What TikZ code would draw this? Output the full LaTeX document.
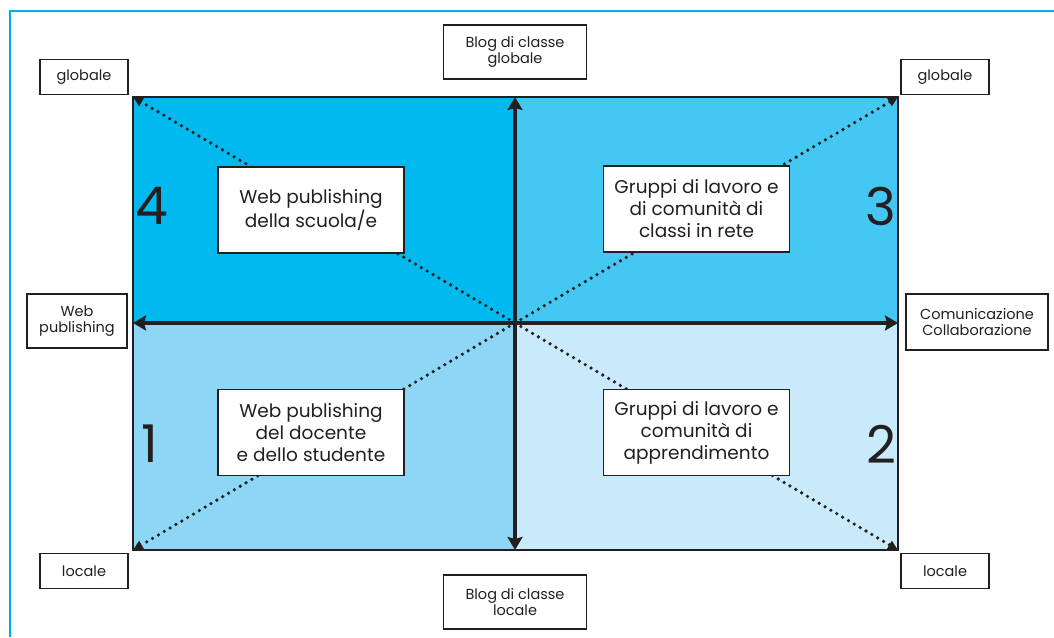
\documentclass[tikz,border=0pt]{standalone}
\usepackage{fontspec}
\setmainfont{Poppins}
\usetikzlibrary{arrows.meta}

\definecolor{frameblue}{RGB}{0,174,239}
\definecolor{quadA}{RGB}{0,185,239}
\definecolor{quadB}{RGB}{68,200,243}
\definecolor{quadC}{RGB}{141,214,246}
\definecolor{quadD}{RGB}{200,234,250}
\definecolor{inkgray}{RGB}{35,31,32}

\begin{document}
\begin{tikzpicture}[x=1pt,y=-1pt,
  labelbox/.style={draw=inkgray,line width=1.3pt,fill=white,align=center,inner sep=0pt,
    font=\fontsize{14.5}{15.5}\selectfont,text=inkgray},
  innerbox/.style={draw=inkgray,line width=1.6pt,fill=white,align=center,inner sep=0pt,
    minimum width=186pt,minimum height=86pt,font=\fontsize{18.5}{22}\selectfont,text=inkgray},
  quadnum/.style={font=\fontsize{52}{52}\selectfont,text=inkgray,inner sep=0pt},
  diag/.style={line width=3.6pt,line cap=round,dash pattern=on 0pt off 6.8pt,draw=inkgray,
    -{Triangle[length=10pt,width=9pt]}},
  axis/.style={line width=4.5pt,draw=inkgray,
    {Stealth[length=13pt,width=15pt,inset=2pt]}-{Stealth[length=13pt,width=15pt,inset=2pt]}}]
\useasboundingbox (0,0) rectangle (1054,637);
% frame
\draw[frameblue,line width=2.5pt] (10,637) -- (10,11) -- (1054,11);
% quadrants
\coordinate (O) at (515,323);
\coordinate (tl) at (133,97);
\coordinate (tr) at (898,97);
\coordinate (bl) at (133,550);
\coordinate (br) at (898,550);
\fill[quadA] (tl) rectangle (O);
\fill[quadB] (tr) rectangle (O);
\fill[quadC] (bl) rectangle (O);
\fill[quadD] (br) rectangle (O);
\draw[inkgray,line width=1.5pt] (tl) rectangle (br);
% diagonals
\draw[diag] (O) -- (tl);
\draw[diag] (O) -- (tr);
\draw[diag] (O) -- (bl);
\draw[diag] (O) -- (br);
% axes
\coordinate (left) at (133,323);
\coordinate (right) at (898,323);
\coordinate (top) at (515,97);
\coordinate (bottom) at (515,550);
\draw[axis] (left) -- (right);
\draw[axis] (top) -- (bottom);
% boxes in the quadrants
\node[innerbox] (scuola) at (311,210) {Web publishing\\della scuola/e};
\node[innerbox] (classi) at (696.5,209) {Gruppi di lavoro e\\di comunità di\\classi in rete};
\node[innerbox] (docente) at (311,432.5) {Web publishing\\del docente\\e dello studente};
\node[innerbox] (apprend) at (696.5,432.5) {Gruppi di lavoro e\\comunità di\\apprendimento};
% numbers
\node[quadnum] (n4) at (152,206) {4};
\node[quadnum] (n3) at (881,206) {3};
\node[quadnum] (n1) at (150,444) {1};
\node[quadnum] (n2) at (881,444) {2};
% outer labels
\node[labelbox,minimum width=88pt,minimum height=35pt] (globL) at (84,77) {globale};
\node[labelbox,minimum width=88pt,minimum height=35pt] (globR) at (945,77) {globale};
\node[labelbox,minimum width=88pt,minimum height=35pt] (locL) at (84,571) {locale};
\node[labelbox,minimum width=88pt,minimum height=35pt] (locR) at (945,571) {locale};
\node[labelbox,minimum width=143pt,minimum height=54pt] (blogG) at (515,52) {Blog di classe\\globale};
\node[labelbox,minimum width=143pt,minimum height=54pt] (blogL) at (515,602) {Blog di classe\\locale};
\node[labelbox,minimum width=100pt,minimum height=54pt] (webpub) at (77,321) {Web\\publishing};
\node[labelbox,minimum width=142pt,minimum height=56pt] (comun) at (977,322) {Comunicazione\\Collaborazione};
\end{tikzpicture}
\end{document}
